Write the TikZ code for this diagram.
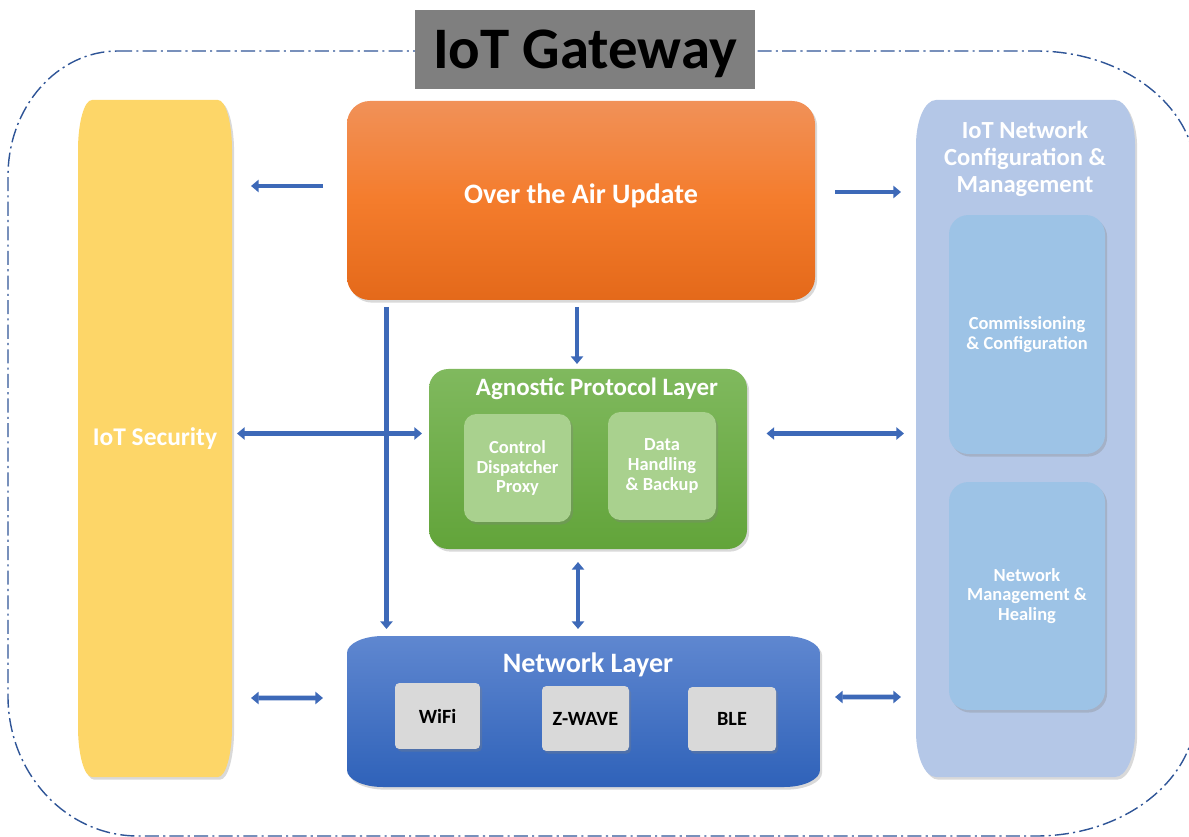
\documentclass[tikz,border=0pt]{standalone}
\usepackage{fontspec}
\setmainfont{Carlito}
\usetikzlibrary{arrows.meta,shadows,fit,calc}
\definecolor{secc}{HTML}{FDD668}
\definecolor{cfgc}{HTML}{B4C7E7}
\definecolor{cfgin}{HTML}{9DC3E6}
\definecolor{otatop}{HTML}{F19158}
\definecolor{otamid}{HTML}{F47C2C}
\definecolor{otabot}{HTML}{E4691A}
\definecolor{grntop}{HTML}{80B95E}
\definecolor{grnbot}{HTML}{62A43A}
\definecolor{grnin}{HTML}{A9D18E}
\definecolor{blutop}{HTML}{5F87D0}
\definecolor{blubot}{HTML}{2F62B9}
\definecolor{grayc}{HTML}{D9D9D9}
\definecolor{titlec}{HTML}{7F7F7F}
\definecolor{arrowc}{HTML}{3D69B8}
\definecolor{outerc}{HTML}{2F5597}
\newcommand\ellboxpath[3]{($(#1.north west)+(#2,0)$) -- ($(#1.north east)+(-#2,0)$)
  arc[start angle=-90,end angle=0,x radius=#2,y radius=#3]
  -- ($(#1.south east)+(0,-#3)$)
  arc[start angle=0,end angle=90,x radius=#2,y radius=#3]
  -- ($(#1.south west)+(#2,0)$)
  arc[start angle=90,end angle=180,x radius=#2,y radius=#3]
  -- ($(#1.north west)+(0,#3)$)
  arc[start angle=180,end angle=270,x radius=#2,y radius=#3] -- cycle}
\begin{document}
\begin{tikzpicture}[x=0.02cm,y=-0.02cm,
  box/.style={inner sep=0pt,outer sep=0pt},
  shad/.style={drop shadow={shadow xshift=1.2pt,shadow yshift=-1.5pt,opacity=0.3}},
  arr/.style={draw=arrowc,line width=2.6pt,-{Triangle[width=7pt,length=4.4pt]}},
  darr/.style={draw=arrowc,line width=2.6pt,{Triangle[width=7pt,length=4.4pt]}-{Triangle[width=7pt,length=4.4pt]}},
  outer/.style={draw=outerc,line width=0.8pt,dash pattern=on 8pt off 2.4pt on 1.2pt off 2.4pt},
  wtitle/.style={text=white,anchor=base,inner sep=0pt},
  small/.style={text=white,align=center,font=\bfseries\fontsize{10.5}{11.3}\selectfont},
  inbox/.style={box,fill=cfgin,rounded corners=11pt,shad,small,minimum width=3.12cm},
  gbox/.style={box,fill=grnin,rounded corners=7pt,shad,small,minimum height=2.16cm},
  chip/.style={box,fill=grayc,rounded corners=2.5pt,shad,text=black,font=\bfseries\fontsize{11.5}{13}\selectfont},
]
\useasboundingbox (0,0) rectangle (1189,837);
% outer dash-dot frame
\draw[outer] (118,51) -- (1036,51)
  arc[start angle=-90,end angle=0,x radius=160,y radius=125] -- (1196,711)
  arc[start angle=0,end angle=90,x radius=160,y radius=125] -- (138,836)
  arc[start angle=90,end angle=180,x radius=130,y radius=140] -- (8,176)
  arc[start angle=180,end angle=270,x radius=110,y radius=125] -- cycle;
% title
\node[box,fill=titlec,fit={(415,10) (755,89)}] (titlebox) {};
\node[anchor=base,inner sep=0pt,font=\bfseries\fontsize{33.5}{40}\selectfont] (title) at (585,69) {IoT Gateway};
% IoT security
\node[box,fit={(78,100) (232,777)}] (sec) {};
\fill[secc,shad] \ellboxpath{sec}{14}{50};
\node[wtitle,font=\bfseries\fontsize{14.5}{17}\selectfont] (sect) at (155,445) {IoT Security};
% OTA
\node[box,fit={(347,101) (815,300)},rounded corners=13pt,top color=otatop,bottom color=otabot,middle color=otamid,shad] (ota) {};
\node[wtitle,font=\bfseries\fontsize{16}{19}\selectfont] (otat) at (581,204) {Over the Air Update};
% config panel
\node[box,fit={(916,100) (1135,777)}] (cfg) {};
\fill[cfgc,shad] \ellboxpath{cfg}{20}{45};
\node[text=white,align=center,inner sep=0pt,font=\bfseries\fontsize{14}{15.5}\selectfont] (cfgt) at (1025,159) {IoT Network\\Configuration \&\\Management};
\node[inbox,minimum height=4.78cm] (comm) at (1027,334.5) {Commissioning\\\& Configuration};
\node[inbox,minimum height=4.56cm] (mgmt) at (1027,596) {Network\\Management \&\\Healing};
% agnostic protocol layer
\node[box,fit={(429,369) (747,549)},rounded corners=11pt,top color=grntop,bottom color=grnbot,shad] (apl) {};
\node[wtitle,font=\bfseries\fontsize{14.2}{17}\selectfont] (aplt) at (597,396) {Agnostic Protocol Layer};
\node[gbox,minimum width=2.14cm] (ctrl) at (517.5,468) {Control\\Dispatcher\\Proxy};
\node[gbox,minimum width=2.16cm] (data) at (662,466) {Data\\Handling\\\& Backup};
% network layer
\node[box,fit={(347,636) (820,787)}] (net) {};
\path[top color=blutop,bottom color=blubot,shad] \ellboxpath{net}{36}{17};
\node[wtitle,font=\bfseries\fontsize{16}{19}\selectfont] (nett) at (588,672) {Network Layer};
\node[chip,minimum width=1.7cm,minimum height=1.32cm] (wifi) at (437.5,716) {WiFi};
\node[chip,minimum width=1.74cm,minimum height=1.3cm] (zwave) at (585.5,718.5) {Z-WAVE};
\node[chip,minimum width=1.76cm,minimum height=1.28cm] (ble) at (732,719) {BLE};
% connectors
\draw[arr] ($(ota.west)+(-24,-14.5)$) -- ($(sec.east)+(19,-252.5)$);
\draw[arr] ($(ota.east)+(20,-8.5)$) -- ($(cfg.west)+(-15,-246.5)$);
\draw[arr] ($(ota.south west)+(39.5,7)$) -- ($(net.north west)+(39.5,-7)$);
\draw[arr] ($(ota.south)+(-4,7)$) -- ($(apl.north)+(-11,-5)$);
\draw[darr] ($(sec.east)+(5,-5)$) -- ($(apl.west)+(-7,-25.5)$);
\draw[darr] ($(apl.south)+(-10,13)$) -- ($(net.north)+(-5.5,-7)$);
\draw[darr] ($(sec.east)+(19,259.5)$) -- ($(net.west)+(-24,-13.5)$);
\draw[darr] ($(apl.east)+(19.5,-25.5)$) -- ($(cfg.west)+(-12,-5)$);
\draw[darr] ($(net.east)+(15,-14.5)$) -- ($(cfg.west)+(-15,258.5)$);
\end{tikzpicture}
\end{document}
